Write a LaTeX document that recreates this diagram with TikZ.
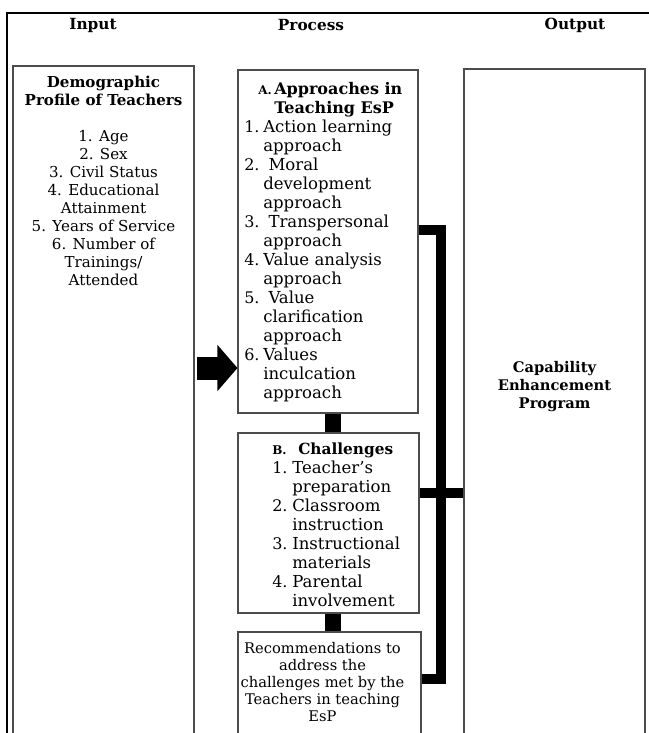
\documentclass[tikz,border=0pt]{standalone}
\usepackage{fontspec}
\setmainfont{DejaVu Serif}
\usetikzlibrary{arrows.meta,fit}

\tikzset{
  box/.style={draw=black!70, line width=0.8pt, inner sep=0pt},
  bar/.style={line width=7.5pt, line join=miter},
  link/.style={line width=12pt},
  bigarrow/.style={line width=17.25pt, -{Triangle[length=15pt,width=33.75pt]}},
  lbl/.style={inner sep=0pt, font=\fontsize{11.3}{13.5}\selectfont},
  listtxt/.style={inner sep=0pt, font=\fontsize{12.4}{14.25}\selectfont},
  hdr/.style={inner sep=0pt, font=\fontsize{11.5}{13.5}\selectfont\bfseries},
}
\newcommand{\num}[1]{{\fontsize{12}{14.25}\selectfont #1}}

\begin{document}
\begin{tikzpicture}[x=0.75pt,y=-0.75pt]
\useasboundingbox (0,0) rectangle (649,733);
\clip (0,0) rectangle (649,733);

%FRAME
\draw[line width=1.1pt] (649,13) -- (7,13) -- (7,745);

%HEADINGS
\node[hdr] (hin) at (93,25) {Input};
\node[hdr] (hpro) at (311,25) {Process};
\node[hdr] (hout) at (575,25) {Output};

%BOXES
\node[box, fit={(13,66) (194,745)}] (inp) {};
\node[box, fit={(238,70) (418,413)}] (appr) {};
\node[box, fit={(238,433) (419,613)}] (chal) {};
\node[box, fit={(238,632) (421,745)}] (recom) {};
\node[box, fit={(464,69) (645,745)}] (outp) {};

%TEXTS
% input
\node[lbl, anchor=base] (demo) at (103.5,87.5) {%
  \begin{tabular}[t]{@{}c@{}}
  \textbf{Demographic}\\
  \textbf{Profile of Teachers}\\
  \\
  1. Age\\
  2. Sex\\
  3. Civil Status\\
  4. Educational\\
  Attainment\\
  5. Years of Service\\
  6. Number of\\
  Trainings/\\
  Attended
  \end{tabular}};
% approaches
\node[listtxt, anchor=base west] (apprtxt) at (244,94) {%
  \begin{tabular}[t]{@{}p{14.25pt}@{}l@{}}
  \multicolumn{2}{@{\hspace{10.5pt}}l@{}}{\makebox[12pt][l]{\small\bfseries A.}{\fontsize{12}{14.25}\selectfont\bfseries Approaches in}}\\
  \multicolumn{2}{@{\hspace{22.5pt}}l@{}}{\fontsize{12}{14.25}\selectfont\bfseries Teaching EsP}\\
  \num{1.} & Action learning\\
     & approach\\
  \num{2.} & \ Moral\\
     & development\\
     & approach\\
  \num{3.} & \ Transpersonal\\
     & approach\\
  \num{4.} & Value analysis\\
     & approach\\
  \num{5.} & \ Value\\
     & clarification\\
     & approach\\
  \num{6.} & Values\\
     & inculcation\\
     & approach
  \end{tabular}};
% challenges
\node[listtxt, anchor=base west] (chaltxt) at (272,454) {%
  \begin{tabular}[t]{@{}p{15pt}@{}l@{}}
  \multicolumn{2}{@{}l@{}}{\makebox[19.5pt][l]{\small\bfseries B.}{\fontsize{11.5}{14.25}\selectfont\bfseries Challenges}}\\
  \num{1.} & Teacher’s\\
     & preparation\\
  \num{2.} & Classroom\\
     & instruction\\
  \num{3.} & Instructional\\
     & materials\\
  \num{4.} & Parental\\
     & involvement
  \end{tabular}};
% recommendations
\node[lbl, anchor=base] (recomtxt) at (322.5,653.5) {\fontsize{11}{12.75}\selectfont
  \begin{tabular}[t]{@{}c@{}}
  Recommendations to\\
  address the\\
  challenges met by the\\
  Teachers in teaching\\
  EsP
  \end{tabular}};
% output
\node[lbl, anchor=base] (outtxt) at (554.5,372.5) {\fontsize{11}{13.5}\selectfont\bfseries
  \begin{tabular}[t]{@{}c@{}}
  Capability\\
  Enhancement\\
  Program
  \end{tabular}};

%CONNECTORS
\coordinate (tail) at (197,368);
\draw[bigarrow] (tail) -- (appr.west |- tail);
\draw[link] (333,0 |- appr.south) -- (333,0 |- chal.north);
\draw[link] (333,0 |- chal.south) -- (333,0 |- recom.north);
\draw[bar] (appr.east |- 0,230) -- (440.5,230) -- (440.5,679) -- (recom.east |- 0,679);
\draw[bar] (chal.east |- 0,493) -- (outp.west |- 0,493);

\end{tikzpicture}
\end{document}
